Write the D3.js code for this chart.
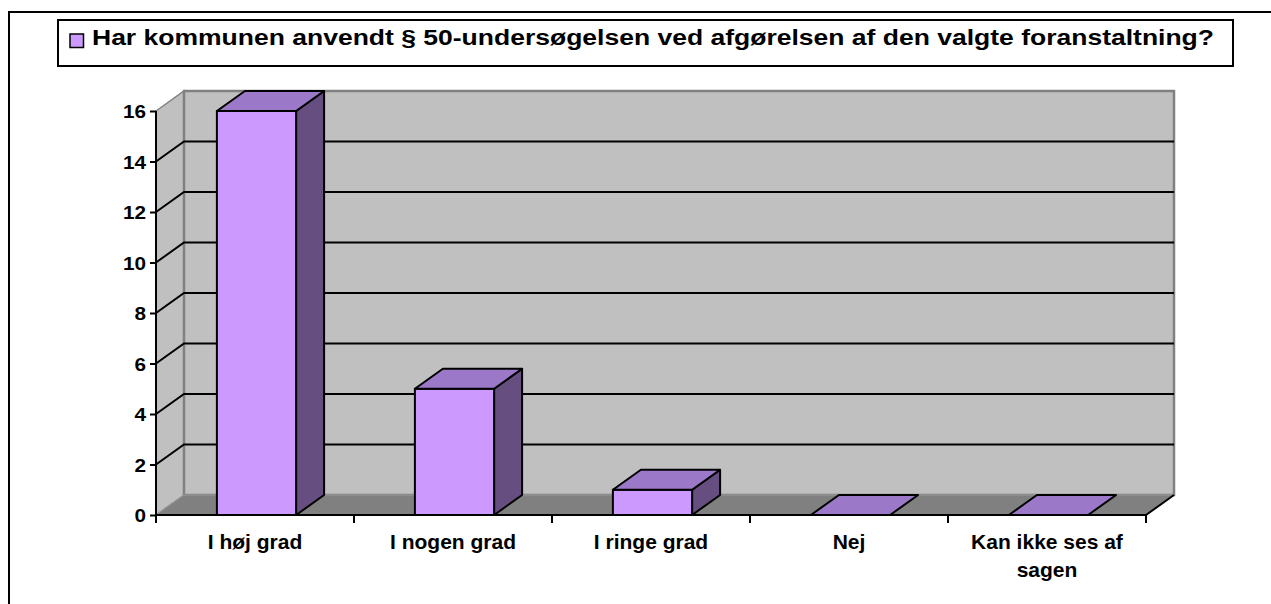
<!DOCTYPE html>
<html>
<head>
<meta charset="utf-8">
<script src="https://cdn.jsdelivr.net/npm/d3@7"></script>
<style>
  html, body { margin: 0; padding: 0; background: #fff; }
  svg { display: block; }
  text { font-family: Arial, "Liberation Sans", sans-serif; font-weight: bold; fill: #000; }
</style>
</head>
<body>
<svg id="chart" width="1271" height="604"></svg>
<script>
// ---- data ----
const title = "Har kommunen anvendt § 50-undersøgelsen ved afgørelsen af den valgte foranstaltning?";
const categories = ["I høj grad", "I nogen grad", "I ringe grad", "Nej", "Kan ikke ses af sagen"];
const categoryLines = [["I høj grad"], ["I nogen grad"], ["I ringe grad"], ["Nej"], ["Kan ikke ses af", "sagen"]];
const values = [16, 5, 1, 0, 0];
const yTicks = [0, 2, 4, 6, 8, 10, 12, 14, 16];

// ---- layout ----
const svg = d3.select("#chart");
const plotL = 156, plotR = 1146, plotB = 515, plotT = 111;
const dx = 28, dy = 20;
const colFront = "#CC99FF", colTop = "#9C78C8", colSide = "#664F80";
const wall = "#C0C0C0", floorCol = "#808080", edge = "#808080";

const x = d3.scaleBand().domain(categories).range([plotL, plotR]).paddingInner(0.6).paddingOuter(0.3);
const y = d3.scaleLinear().domain([0, 16]).range([plotB, plotT]);
const step = x.step();

// outer frame
svg.append("rect").attr("x", 9).attr("y", 12).attr("width", 1300).attr("height", 700)
  .attr("fill", "#fff").attr("stroke", "#000").attr("stroke-width", 2);

// legend / title box
svg.append("rect").attr("x", 58).attr("y", 20).attr("width", 1175).attr("height", 46)
  .attr("fill", "#fff").attr("stroke", "#000").attr("stroke-width", 2);
svg.append("rect").attr("x", 70).attr("y", 34).attr("width", 13.5).attr("height", 13.5)
  .attr("fill", colFront).attr("stroke", "#000").attr("stroke-width", 1.5);
svg.append("text").attr("x", 92).attr("y", 44.5).attr("font-size", 22)
  .attr("textLength", 1122).attr("lengthAdjust", "spacingAndGlyphs").text(title);

const pts = a => a.map(p => p.join(",")).join(" ");

// side wall (left)
svg.append("polygon")
  .attr("points", pts([[plotL, y(16)], [plotL + dx, y(16) - dy], [plotL + dx, plotB - dy], [plotL, plotB]]))
  .attr("fill", wall).attr("stroke", edge).attr("stroke-width", 1.5);
// back wall
svg.append("rect").attr("x", plotL + dx).attr("y", y(16) - dy)
  .attr("width", plotR - plotL).attr("height", plotB - y(16))
  .attr("fill", wall).attr("stroke", edge).attr("stroke-width", 2.5);
// floor
svg.append("polygon")
  .attr("points", pts([[plotL, plotB], [plotR, plotB], [plotR + dx, plotB - dy], [plotL + dx, plotB - dy]]))
  .attr("fill", floorCol).attr("stroke", "#999").attr("stroke-width", 1);
svg.append("line").attr("x1", plotR).attr("y1", plotB).attr("x2", plotR + dx).attr("y2", plotB - dy)
  .attr("stroke", "#000").attr("stroke-width", 2);

// gridlines
const innerTicks = yTicks.filter(v => v > 0 && v < 16);
svg.append("g").selectAll("path").data(innerTicks).join("path")
  .attr("d", v => `M${plotL},${y(v)}L${plotL + dx},${y(v) - dy}L${plotR + dx},${y(v) - dy}`)
  .attr("fill", "none").attr("stroke", "#000").attr("stroke-width", 2);

// bars
const bars = svg.append("g");
categories.forEach((c, i) => {
  const v = values[i];
  const x0 = x(c) + 1.5, x1 = x0 + x.bandwidth();
  const yt = y(v);
  const g = bars.append("g").attr("stroke", "#000").attr("stroke-width", 2).attr("stroke-linejoin", "round");
  if (v > 0) {
    g.append("polygon").attr("points", pts([[x1, yt], [x1 + dx, yt - dy], [x1 + dx, plotB - dy], [x1, plotB]]))
      .attr("fill", colSide);
    g.append("rect").attr("x", x0).attr("y", yt).attr("width", x1 - x0).attr("height", plotB - yt)
      .attr("fill", colFront);
  }
  g.append("polygon").attr("points", pts([[x0, yt], [x1, yt], [x1 + dx, yt - dy], [x0 + dx, yt - dy]]))
    .attr("fill", colTop);
});

// y axis
const yAxis = svg.append("g").attr("transform", `translate(${plotL},0)`)
  .call(d3.axisLeft(y).tickValues(yTicks).tickSize(6).tickPadding(10));
yAxis.select(".domain").attr("stroke", "#000").attr("stroke-width", 2)
  .attr("d", `M0,${plotT}V${plotB + 8}`);
yAxis.selectAll(".tick line").attr("stroke", "#000").attr("stroke-width", 2);
yAxis.selectAll(".tick text")
  .attr("font-size", 18.5).attr("font-family", "Arial, 'Liberation Sans', sans-serif")
  .attr("font-weight", "bold").attr("fill", "#000")
  .attr("x", null).attr("dy", null)
  .attr("transform", "translate(-10,6.5) scale(1.12,1)");

// x axis
svg.append("line").attr("x1", plotL).attr("x2", plotR).attr("y1", plotB).attr("y2", plotB)
  .attr("stroke", "#000").attr("stroke-width", 2);
const bounds = d3.range(categories.length + 1).map(i => plotL + i * step);
svg.append("g").selectAll("line").data(bounds).join("line")
  .attr("x1", d => d).attr("x2", d => d).attr("y1", plotB).attr("y2", plotB + 8)
  .attr("stroke", "#000").attr("stroke-width", 2);

const xl = svg.append("g");
categories.forEach((c, i) => {
  const cx = plotL + (i + 0.5) * step;
  categoryLines[i].forEach((line, j) => {
    xl.append("text").attr("x", cx).attr("y", 549 + j * 28).attr("text-anchor", "middle")
      .attr("font-size", 21).text(line);
  });
});
</script>
</body>
</html>
